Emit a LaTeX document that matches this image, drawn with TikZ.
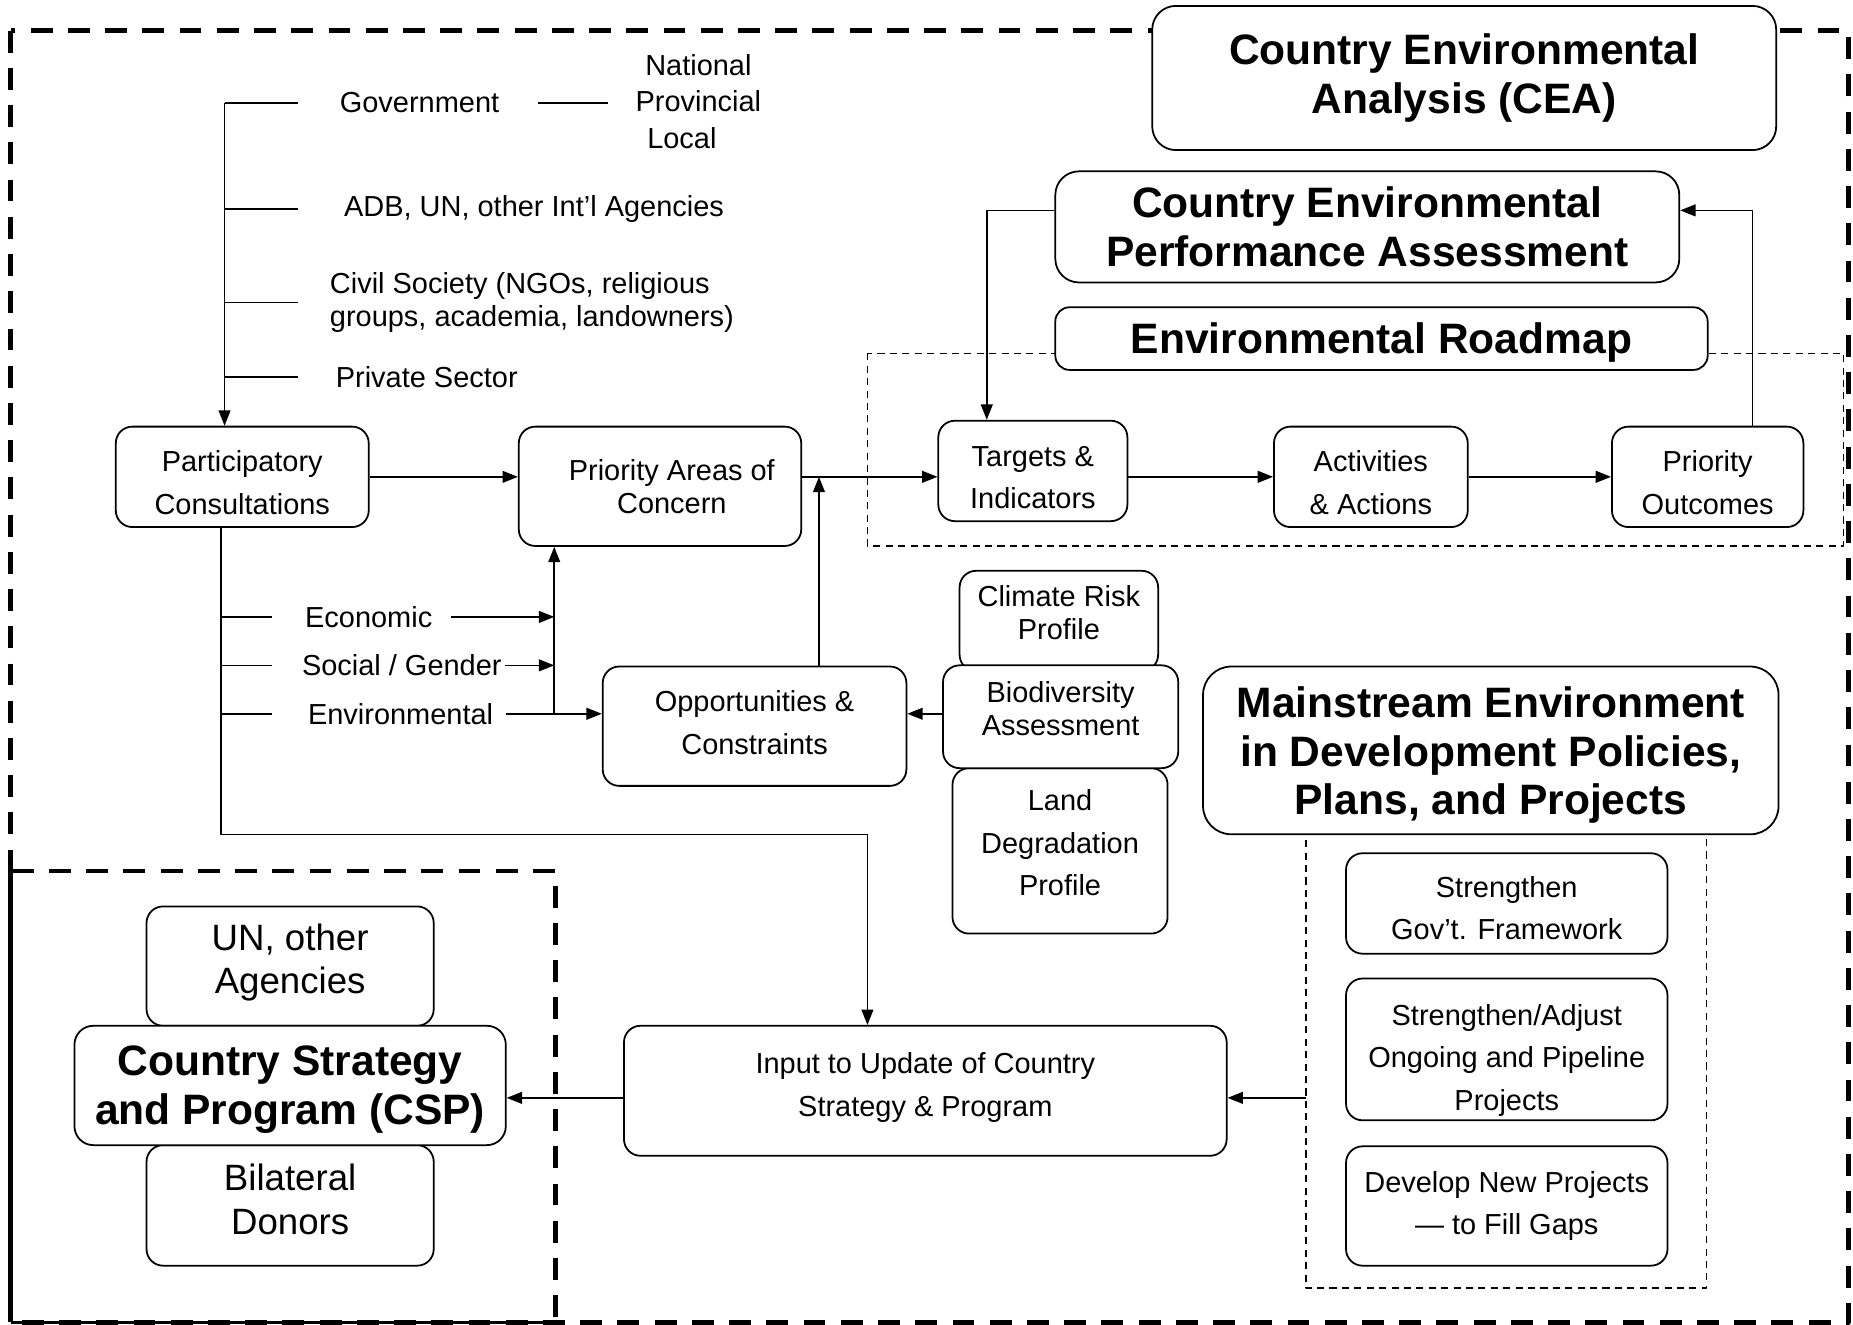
\documentclass[tikz,border=0pt]{standalone}
\usepackage{fontspec}
\setmainfont{Liberation Sans}
\usetikzlibrary{arrows.meta}
% struts that nudge a node's text down (tall first line) or up (deep last line)
\newcommand{\sink}[1]{\rule{0pt}{#1}}
\newcommand{\lift}[1]{\rule[-#1]{0pt}{0pt}}
\begin{document}
\begin{tikzpicture}[x=1pt, y=-1pt, line join=round,
    box/.style={draw, fill=white, rounded corners=14pt, line width=1.5pt,
      inner sep=2pt, align=center, font=\fontsize{24.5}{36}\selectfont},
    tight/.style={font=\fontsize{24.5}{28}\selectfont},
    head/.style={draw, fill=white, rounded corners=20pt, line width=1.5pt,
      inner sep=2pt, align=center, font=\bfseries\fontsize{36}{41}\selectfont},
    lbl/.style={inner sep=1pt, align=center, font=\fontsize{24.5}{28}\selectfont},
    link/.style={line width=1.3pt},
    arr/.style={line width=1.3pt, -{Triangle[length=13pt,width=10pt]}},
    frame/.style={line width=4pt, dash pattern=on 18.5pt off 13pt},
    zone/.style={line width=1.1pt, dash pattern=on 6pt off 4.5pt}]
  \useasboundingbox (0,0) rectangle (1568,1121);
  % dashed frames
  \draw[frame] (9,26) rectangle (1564,1119);
  \draw[zone] (734,299) rectangle (1560,462);
  \draw[zone] (1105,690) rectangle (1444,1090);
  \draw[frame] (10,737) -- (470,737) -- (470,1119);
  \draw[line width=4pt] (9,721) -- (9,1119);
  \draw[line width=2.5pt] (9,1119) -- (470,1119);
  % headings
  \node[head, minimum width=528pt, minimum height=122pt] (cea) at (1239,66)
    {Country Environmental\\Analysis (CEA)};
  \node[head, minimum width=528pt, minimum height=94pt] (cepa) at (1157,192)
    {Country Environmental\\Performance Assessment};
  \node[head, minimum width=552pt, minimum height=53pt, rounded corners=12pt] (road)
    at (1169,286.5) {\sink{32pt}Environmental Roadmap};
  % roadmap chain
  \node[box, minimum width=160pt, minimum height=85pt] (targ) at (874,398.5) {\sink{28pt}Targets \&\\Indicators};
  \node[box, minimum width=164pt, minimum height=85pt] (acts) at (1160,403.5) {\sink{28pt}Activities\\\& Actions};
  \node[box, minimum width=162pt, minimum height=85pt] (outc) at (1445,403.5) {\sink{28pt}Priority\\Outcomes};
  \node[box, minimum width=214pt, minimum height=85pt] (part) at (205,403.5) {\sink{28pt}Participatory\\Consultations};
  \node[box, tight, minimum width=239pt, minimum height=101pt] (conc) at (558.5,411.5)
    {\hspace*{20pt}Priority Areas of\\\hspace*{20pt}Concern};
  \node[box, minimum width=257pt, minimum height=101pt] (oppo) at (638.5,614.5) {Opportunities \&\\Constraints\lift{6pt}};
  % profiles
  \node[box, tight, minimum width=168pt, minimum height=85pt] (clim) at (896,525.5) {Climate Risk\\Profile\lift{14pt}};
  \node[box, minimum width=182pt, minimum height=140pt] (land) at (897,720) {Land\\Degradation\\Profile\lift{14pt}};
  \node[box, tight, minimum width=199pt, minimum height=87pt] (biod) at (897.5,606.5) {Biodiversity\\Assessment\lift{14pt}};
  % mainstreaming
  \node[head, minimum width=487pt, minimum height=142pt, rounded corners=24pt] (main) at (1261.5,635)
    {\sink{34pt}Mainstream Environment\\in Development Policies,\\Plans, and Projects};
  \node[box, minimum width=272pt, minimum height=85pt] (govf) at (1275,764.5) {\sink{26pt}Strengthen\\Gov’t. Framework};
  \node[box, minimum width=272pt, minimum height=120pt] (adj) at (1275,888) {\sink{36pt}Strengthen/Adjust\\Ongoing and Pipeline\\Projects};
  \node[box, minimum width=272pt, minimum height=101pt] (newp) at (1275,1020.5) {Develop New Projects\\— to Fill Gaps};
  \node[box, minimum width=510pt, minimum height=110pt] (inpt) at (783,923) {Input to Update of Country\\Strategy \& Program\lift{11pt}};
  % country strategy
  \node[box, font=\fontsize{31}{37}\selectfont, minimum width=243pt, minimum height=101pt] (unag) at (245.5,817.5) {UN, other\\Agencies\lift{12.5pt}};
  \node[box, font=\fontsize{31}{37}\selectfont, minimum width=243pt, minimum height=102pt] (bila) at (245.5,1020) {Bilateral\\Donors\lift{10pt}};
  \node[head, minimum width=365pt, minimum height=101pt, rounded corners=16pt] (csp) at (245.5,918.5)
    {\sink{32pt}Country Strategy\\and Program (CSP)};
  % stakeholders
  \node[lbl] (gov) at (355,87) {Government};
  \node[lbl, font=\fontsize{24.5}{30.5}\selectfont] (levels) at (591,86) {National\\Provincial\\Local\hspace*{28pt}};
  \node[lbl, anchor=west] (adb) at (290,177) {ADB, UN, other Int’l Agencies};
  \node[lbl, anchor=west, align=left] (civ) at (278,256) {Civil Society (NGOs, religious\\groups, academia, landowners)};
  \node[lbl, anchor=west] (priv) at (283,319) {Private Sector};
  \coordinate (trunk) at (190,87);
  \draw[arr] (trunk) -- (trunk |- part.north);
  \foreach \k in {gov, adb, civ, priv}
    \draw[link] (trunk |- \k) -- ++(62,0);
  \draw[link] ([xshift=32pt]gov.east) -- ([xshift=-22pt]levels.west |- gov);
  % analyses
  \node[lbl] (econ) at (312,522) {Economic};
  \node[lbl] (socg) at (340,563) {Social / Gender};
  \node[lbl] (envf) at (339,604) {Environmental};
  \coordinate (drop) at (187,706);
  \coordinate (turn) at (734,706);
  \draw[link] (drop |- part.south) -- (drop) -- (turn);
  \draw[arr] (turn) -- (turn |- inpt.north);
  \foreach \k in {econ, socg, envf}
    \draw[link] (drop |- \k) -- ++(43,0);
  \coordinate (riser) at (469,604);
  \draw[arr] ([xshift=15pt]econ.east) -- (riser |- econ);
  \draw[arr] ([xshift=2pt]socg.east) -- (riser |- socg);
  \draw[arr] ([xshift=10pt]envf.east) -- (envf -| oppo.west);
  \draw[arr] (riser) -- (riser |- conc.south);
  \draw[arr] (biod.west |- envf) -- (envf -| oppo.east);
  \draw[arr] ([xshift=54.5pt]oppo.north) -- ([xshift=54.5pt]oppo.north |- part.east);
  % main flow
  \draw[arr] (part.east) -- (part.east -| conc.west);
  \draw[arr] (part.east -| conc.east) -- (part.east -| targ.west);
  \draw[arr] (part.east -| targ.east) -- (part.east -| acts.west);
  \draw[arr] (part.east -| acts.east) -- (part.east -| outc.west);
  \draw[arr] ([xshift=38pt]outc.north) |- ([yshift=14pt]cepa.east);
  \draw[arr] ([yshift=14pt]cepa.west) -| ([xshift=-39pt]targ.north);
  \coordinate (feed) at (1105,929);
  \draw[arr] (feed) -- (feed -| inpt.east);
  \draw[arr] (inpt.west |- feed) -- (feed -| csp.east);
\end{tikzpicture}
\end{document}
